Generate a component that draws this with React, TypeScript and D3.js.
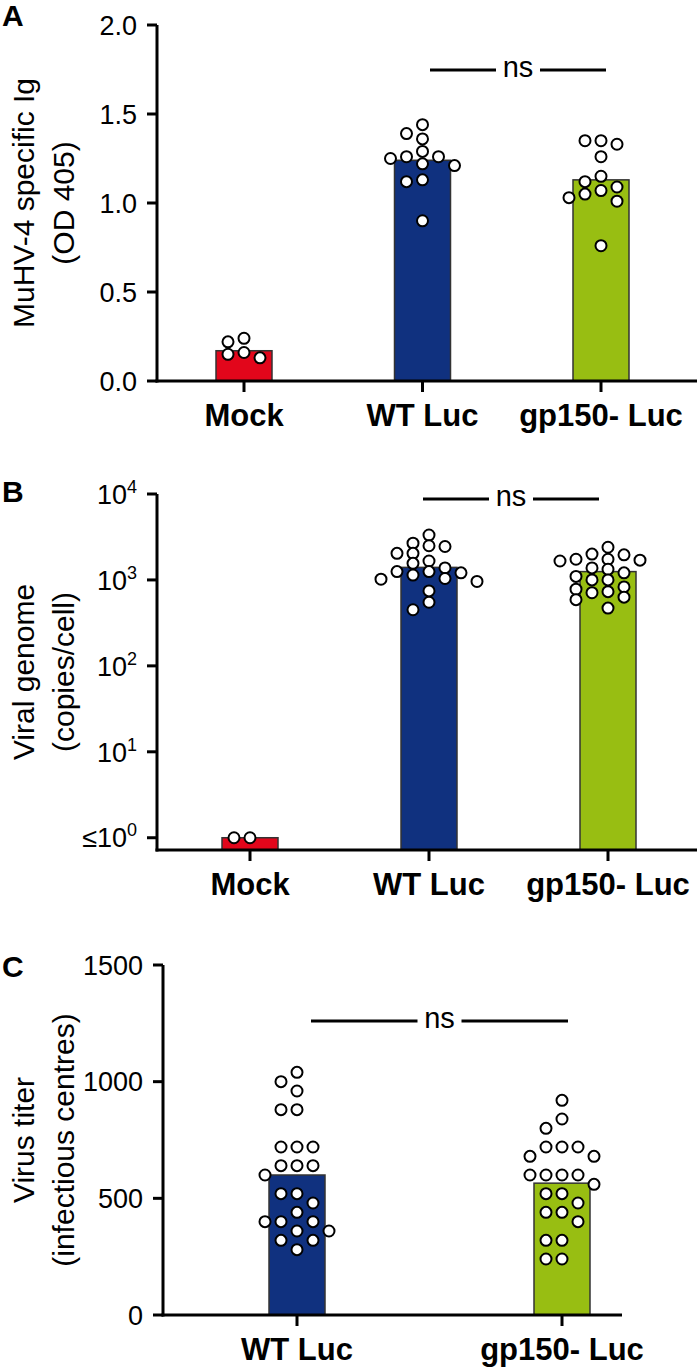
import React, { useEffect, useRef } from 'react';
import * as d3 from 'd3';

const barColors: Record<string, string> = { 'Mock': '#e2061b', 'WT Luc': '#10317f', 'gp150- Luc': '#98be12' };

// Panel A: MuHV-4 specific Ig (OD 405)
const igGroups = ['Mock', 'WT Luc', 'gp150- Luc'];
const igMeans = [0.17, 1.24, 1.13];
const igMock = [0.24, 0.22, 0.16, 0.15, 0.13];
const igWT = [1.44, 1.39, 1.36, 1.29, 1.26, 1.26, 1.25, 1.22, 1.21, 1.13, 1.12, 0.9];
const igGp150 = [1.35, 1.35, 1.33, 1.26, 1.15, 1.12, 1.09, 1.07, 1.05, 1.03, 1.01, 0.76];
const igTicks = [0, 0.5, 1.0, 1.5, 2.0];

// Panel B: viral genome copies/cell (log)
const genomeGroups = ['Mock', 'WT Luc', 'gp150- Luc'];
const genomeMeans = [1, 1400, 1250];
const genomeMock = [1, 1];
const genomeWT = [3330, 2680, 2500, 2450, 2040, 2040, 1660, 1560, 1380, 1250, 1250, 1210, 1140, 1040, 1020, 960, 745, 550, 450];
const genomeGp150 = [2400, 2000, 1960, 1740, 1740, 1700, 1660, 1380, 1330, 1210, 1100, 1000, 1000, 830, 780, 730, 710, 630, 590, 470];
const genomeTicks = [1, 10, 100, 1000, 10000];

// Panel C: virus titer (infectious centres)
const titerGroups = ['WT Luc', 'gp150- Luc'];
const titerMeans = [600, 565];
const titerWT = [1040, 1000, 960, 880, 880, 720, 720, 720, 640, 640, 640, 600, 520, 520, 480, 440, 400, 400, 400, 360, 360, 320, 320, 280];
const titerGp150 = [920, 840, 800, 720, 720, 720, 680, 680, 600, 600, 600, 600, 560, 520, 520, 480, 440, 440, 400, 320, 320, 240, 240];
const titerTicks = [0, 500, 1000, 1500];

const FONT = '"Liberation Sans", Arial, Helvetica, sans-serif';
const R = 5.5;
const STEP = 16;

// simple column scatter: points spread sideways in 16px slots when they would overlap
function swarm(values: number[], y: (v: number) => number, minD: number) {
  const placed: { x: number; y: number }[] = [];
  values.slice().sort((a, b) => b - a).forEach(v => {
    const py = y(v);
    for (let k = 0; k < 30; k++) {
      const slot = k === 0 ? 0 : (k % 2 ? -Math.ceil(k / 2) : Math.ceil(k / 2));
      const px = slot * STEP;
      if (placed.every(p => Math.hypot(p.x - px, p.y - py) >= minD)) {
        placed.push({ x: px, y: py });
        break;
      }
    }
  });
  return placed;
}

function drawPanel(svg: any, p: any) {
  const g = svg.append('g');
  const y = p.y;
  const x = d3.scalePoint().domain(p.groups).range(p.xRange);
  const base = p.baseY;

  // bars
  p.groups.forEach((name: string, i: number) => {
    const cx = x(name)!;
    g.append('rect')
      .attr('x', cx - 28).attr('width', 56)
      .attr('y', y(p.means[i])).attr('height', base - y(p.means[i]))
      .attr('fill', barColors[name])
      .attr('stroke', '#333').attr('stroke-width', 1.5);
  });

  // points
  p.groups.forEach((name: string, i: number) => {
    const cx = x(name)!;
    swarm(p.points[i], y, p.minD).forEach(pt => {
      g.append('circle')
        .attr('cx', cx + pt.x).attr('cy', pt.y).attr('r', R)
        .attr('fill', 'white').attr('stroke', 'black').attr('stroke-width', 2);
    });
  });

  // axes
  g.append('line').attr('x1', p.axisX).attr('x2', p.axisX).attr('y1', p.topY).attr('y2', base + 1.5)
    .attr('stroke', 'black').attr('stroke-width', 3);
  g.append('line').attr('x1', p.axisX - 1.5).attr('x2', p.axisEnd).attr('y1', base).attr('y2', base)
    .attr('stroke', 'black').attr('stroke-width', 3);

  p.ticks.forEach((t: number) => {
    const ty = y(t);
    g.append('line').attr('x1', p.axisX - 10).attr('x2', p.axisX).attr('y1', ty).attr('y2', ty)
      .attr('stroke', 'black').attr('stroke-width', 3);
    const txt = g.append('text')
      .attr('x', p.axisX - 20).attr('y', ty).attr('dy', '0.36em')
      .attr('text-anchor', 'end').attr('font-size', 27).attr('font-family', FONT);
    if (p.log) {
      const e = Math.round(Math.log10(t));
      txt.append('tspan').text(t === 1 ? '≤10' : '10');
      txt.append('tspan').attr('font-size', 18).attr('dy', -11).text(String(e));
    } else {
      txt.text(p.fmt(t));
    }
  });

  p.groups.forEach((name: string) => {
    const cx = x(name)!;
    g.append('line').attr('x1', cx).attr('x2', cx).attr('y1', base).attr('y2', base + 11)
      .attr('stroke', 'black').attr('stroke-width', 3);
    g.append('text').attr('x', cx).attr('y', base + 45)
      .attr('text-anchor', 'middle').attr('font-size', 31).attr('font-weight', 'bold')
      .attr('font-family', FONT).text(name);
  });

  // axis title
  const cy = (p.topY + base) / 2;
  p.title.forEach((line: string, i: number) => {
    g.append('text')
      .attr('transform', `translate(${34 + i * 40},${cy}) rotate(-90)`)
      .attr('text-anchor', 'middle').attr('font-size', 30).attr('font-family', FONT)
      .text(line);
  });

  // panel letter
  g.append('text').attr('x', 2).attr('y', p.letterY)
    .attr('font-size', 30).attr('font-weight', 'bold').attr('font-family', FONT).text(p.letter);

  // significance
  const [l, r] = p.nsRange;
  const mid = (l + r) / 2;
  g.append('line').attr('x1', l).attr('x2', mid - 22).attr('y1', p.nsY).attr('y2', p.nsY)
    .attr('stroke', 'black').attr('stroke-width', 3);
  g.append('line').attr('x1', mid + 22).attr('x2', r).attr('y1', p.nsY).attr('y2', p.nsY)
    .attr('stroke', 'black').attr('stroke-width', 3);
  g.append('text').attr('x', mid).attr('y', p.nsY).attr('dy', '0.25em')
    .attr('text-anchor', 'middle').attr('font-size', 29).attr('font-family', FONT).text('ns');
}

export default function App() {
  const svgRef = useRef<SVGSVGElement>(null);

  useEffect(() => {
    const svg = d3.select(svgRef.current);
    svg.selectAll('*').remove();

    const panels = [
      {
        letter: 'A', letterY: 26, groups: igGroups, means: igMeans,
        points: [igMock, igWT, igGp150], ticks: igTicks, fmt: d3.format('.1f'), minD: 12,
        y: d3.scaleLinear().domain([0, 2]).range([381, 25]),
        axisX: 157, axisEnd: 697, topY: 25, baseY: 381, xRange: [244, 601],
        title: ['MuHV-4 specific Ig', '(OD 405)'], nsY: 70, nsRange: [430, 606],
      },
      {
        letter: 'B', letterY: 502, groups: genomeGroups, means: genomeMeans,
        points: [genomeMock, genomeWT, genomeGp150], ticks: genomeTicks, log: true, minD: 10,
        y: d3.scaleLog().domain([0.72, 10000]).range([850, 494]),
        axisX: 157, axisEnd: 697, topY: 494, baseY: 850, xRange: [250, 608],
        title: ['Viral genome', '(copies/cell)'], nsY: 499, nsRange: [423, 599],
      },
      {
        letter: 'C', letterY: 977, groups: titerGroups, means: titerMeans,
        points: [titerWT, titerGp150], ticks: titerTicks, fmt: d3.format('d'), minD: 11,
        y: d3.scaleLinear().domain([0, 1500]).range([1315, 965]),
        axisX: 163, axisEnd: 622, topY: 965, baseY: 1315, xRange: [297, 562],
        title: ['Virus titer', '(infectious centres)'], nsY: 1021, nsRange: [311, 568],
      },
    ];
    panels.forEach(p => drawPanel(svg, p));
  }, []);

  return (
    <svg ref={svgRef} width={700} height={1368}
      style={{ position: 'absolute', left: 0, top: 0, background: 'white' }} />
  );
}
